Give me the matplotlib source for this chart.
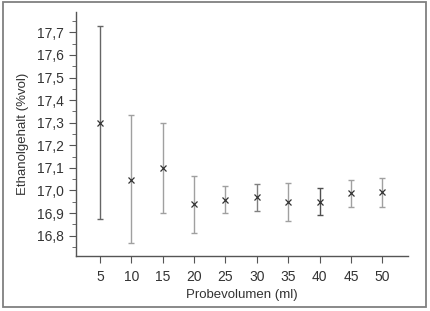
import matplotlib
matplotlib.use("Agg")
import matplotlib.pyplot as plt
from matplotlib.patches import Rectangle
from matplotlib.ticker import MultipleLocator, FuncFormatter

volumes = [5, 10, 15, 20, 25, 30, 35, 40, 45, 50]
means = [17.30, 17.047, 17.10, 16.94, 16.959, 16.969, 16.949, 16.949, 16.988, 16.994]
upper = [17.727, 17.332, 17.30, 17.066, 17.021, 17.028, 17.033, 17.009, 17.047, 17.057]
lower = [16.874, 16.766, 16.90, 16.813, 16.90, 16.91, 16.866, 16.89, 16.929, 16.929]
bar_colors = ['#666666', '#a0a0a0', '#a0a0a0', '#a0a0a0', '#a0a0a0',
              '#808080', '#a0a0a0', '#505050', '#a0a0a0', '#a0a0a0']

plt.rcParams['font.family'] = ['Liberation Sans Narrow', 'Liberation Sans', 'DejaVu Sans']

fig = plt.figure(figsize=(4.30, 3.11), dpi=100)
ax = fig.add_axes([76/430, 1 - 256/311, (408-76)/430, (256-12)/311])

for x, m, u, l, c in zip(volumes, means, upper, lower, bar_colors):
    ax.errorbar([x], [m], yerr=[[m - l], [u - m]], fmt='none', ecolor=c,
                elinewidth=1.0, capsize=2.5, capthick=1.0)
ax.plot(volumes, means, linestyle='none', marker='x', color='#333333',
        markersize=4, markeredgewidth=0.9)

ax.set_xlim(1.2, 54.1)
ax.set_ylim(16.71, 17.79)
ax.set_xticks(volumes)
ax.yaxis.set_major_locator(MultipleLocator(0.1))
ax.yaxis.set_minor_locator(MultipleLocator(0.05))
ax.yaxis.set_major_formatter(FuncFormatter(lambda v, p: f"{v:.1f}".replace('.', ',')))
for s in ['top', 'right']:
    ax.spines[s].set_visible(False)
for s in ['left', 'bottom']:
    ax.spines[s].set_color('#555555')
    ax.spines[s].set_linewidth(1.0)
ax.tick_params(axis='both', colors='#555555', labelcolor='#333333', labelsize=10)
ax.tick_params(axis='y', which='major', length=5)
ax.tick_params(axis='y', which='minor', length=3, color='#555555')
ax.tick_params(axis='x', length=5, pad=5)
ax.set_xlabel('Probevolumen (ml)', fontsize=9.5, color='#333333', labelpad=4)
ax.set_ylabel('Ethanolgehalt (%vol)', fontsize=9.5, color='#333333', labelpad=6)

fig.patches.append(Rectangle((3/430, 4/311), 423/430, 305/311, transform=fig.transFigure,
                             fill=False, edgecolor='#808080', linewidth=1.3))

fig.savefig('out.png', dpi=100)
